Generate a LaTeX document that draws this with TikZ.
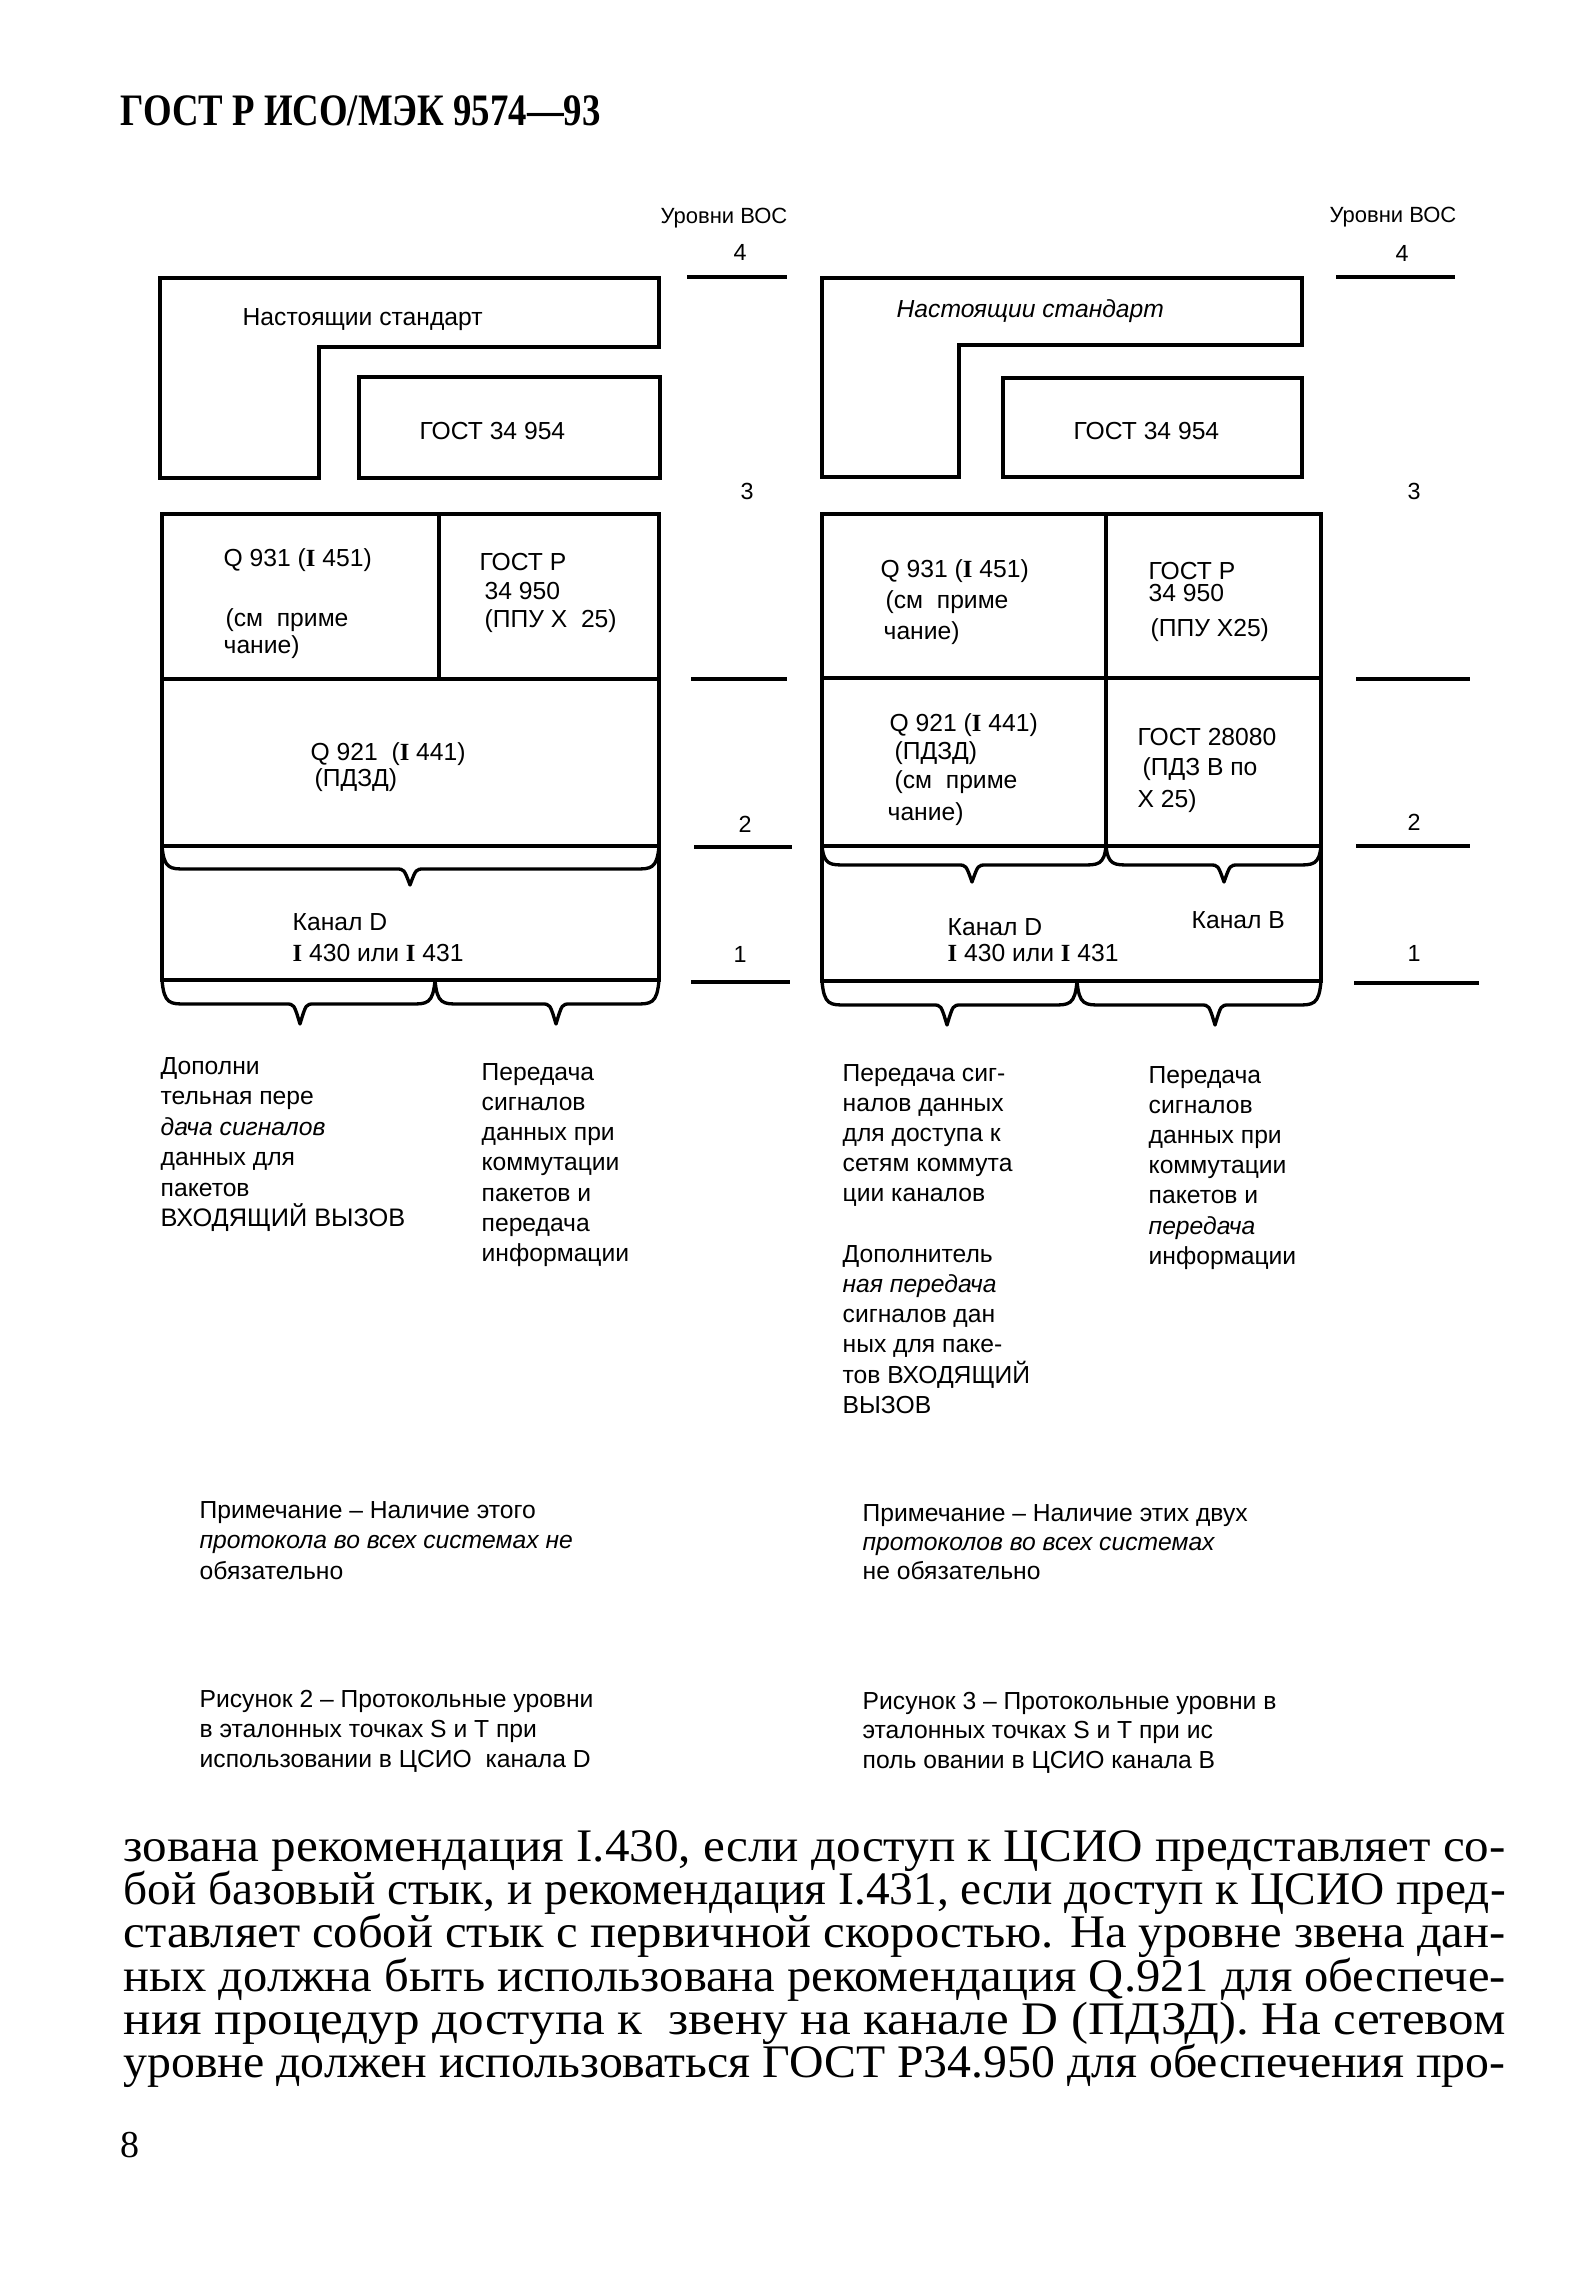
\documentclass[tikz,border=0pt]{standalone}
\usepackage{fontspec}
\setmainfont{Liberation Serif}
\setsansfont{Liberation Sans}
\usepackage{graphicx}
\newcommand\romI{{\rmfamily\bfseries I}}
\newcommand\mybrace[6]{%
  \draw[bracel] (#1,#3) .. controls ({#1+2},#4) and ({#1+8},#4) .. ({#1+24},#4)
    -- ({#5-14},#4) .. controls ({#5-6},#4) .. (#5,#6)
    .. controls ({#5+6},#4) .. ({#5+14},#4)
    -- ({#2-24},#4) .. controls ({#2-8},#4) and ({#2-2},#4) .. (#2,#3);}
\tikzset{
  frame/.style={line width=1pt, line join=miter},
  bracel/.style={line width=1pt, line join=round},
  lvlline/.style={line width=1pt},
  lbl/.style={font=\sffamily\fontsize{7.4}{9}\selectfont, inner sep=0pt, anchor=base west},
  lvlnum/.style={font=\sffamily\fontsize{7}{8}\selectfont, inner sep=0pt, anchor=base},
  lvlhead/.style={font=\sffamily\fontsize{6.6}{8}\selectfont, inner sep=0pt, anchor=base},
  body/.style={font=\rmfamily\fontsize{14}{14}\selectfont, inner sep=0pt, anchor=base west},
}
\begin{document}
\begin{tikzpicture}[x=0.3pt,y=-0.3pt]
\path[fill=white,use as bounding box] (0,0) rectangle (1579,2270);

% header
\node[inner sep=0pt, anchor=base west, font=\rmfamily\bfseries\fontsize{13.5}{13.5}\selectfont] (hdr) at (120,126)
  {\resizebox{144pt}{\height}{ГОСТ Р ИСО/МЭК 9574—93}};

% ---------- left figure ----------
\draw[frame] (160,278) -- (659,278) -- (659,347) -- (319,347) -- (319,478) -- (160,478) -- cycle;
\draw[frame] (359,377) rectangle (660,478);
\node[lbl] (Lstd) at (242,326) {Настоящии стандарт};
\node[lbl] (Lg954) at (419,440) {ГОСТ 34 954};

\draw[frame] (162,514) rectangle (659,980);
\draw[frame] (162,679) -- (659,679);
\draw[frame] (162,846) -- (659,846);
\draw[frame] (439,514) -- (439,679);
\mybrace{162}{659}{846}{869}{410}{885}
\mybrace{162}{435}{980}{1004}{300}{1024}
\mybrace{435}{659}{980}{1004}{556}{1024}

\node[lbl] (Lq931) at (223,567) {Q 931 (\romI\ 451)};
\node[lbl] (Lsm1) at (225,626) {(см\ \ приме};
\node[lbl] (Lch1) at (223,654) {чание)};
\node[lbl] (Lgr1) at (479,571) {ГОСТ Р};
\node[lbl] (Lgr2) at (484,599) {34 950};
\node[lbl] (Lgr3) at (484,628) {(ППУ Х\ \ 25)};
\node[lbl] (Lq921) at (310,760) {Q 921\ \ (\romI\ 441)};
\node[lbl] (Lpdzd) at (314,786) {(ПДЗД)};
\node[lbl] (LkD) at (292,930) {Канал D};
\node[lbl] (Li430) at (292,961) {\romI\ 430 или \romI\ 431};

% levels left
\node[lvlhead] (Lhead) at (724,224) {Уровни ВОС};
\node[lvlnum] (L4) at (740,261) {4};
\node[lvlnum] (L3) at (747,500) {3};
\node[lvlnum] (L2) at (745,832) {2};
\node[lvlnum] (L1) at (740,962) {1};
\draw[lvlline] (687,277) -- (787,277);
\draw[lvlline] (691,679) -- (787,679);
\draw[lvlline] (694,847) -- (792,847);
\draw[lvlline] (691,982) -- (790,982);

% ---------- right figure ----------
\draw[frame] (822,278) -- (1302,278) -- (1302,345) -- (959,345) -- (959,477) -- (822,477) -- cycle;
\draw[frame] (1003,378) rectangle (1302,477);
\node[lbl] (Rstd) at (896,318) {\itshape Настоящии стандарт};
\node[lbl] (Rg954) at (1073,440) {ГОСТ 34 954};

\draw[frame] (822,514) rectangle (1321,981);
\draw[frame] (822,678) -- (1321,678);
\draw[frame] (822,846) -- (1321,846);
\draw[frame] (1106,514) -- (1106,846);
\mybrace{822}{1106}{846}{865}{972}{882}
\mybrace{1106}{1321}{846}{865}{1224}{882}
\mybrace{822}{1077}{981}{1005}{947}{1025}
\mybrace{1077}{1321}{981}{1005}{1215}{1025}

\node[lbl] (Rq931) at (880,578) {Q 931 (\romI\ 451)};
\node[lbl] (Rsm1) at (885,608) {(см\ \ приме};
\node[lbl] (Rch1) at (883,639) {чание)};
\node[lbl] (Rgr1) at (1148,580) {ГОСТ Р};
\node[lbl] (Rgr2) at (1148,602) {34 950};
\node[lbl] (Rgr3) at (1150,637) {(ППУ Х25)};
\node[lbl] (Rq921) at (889,731) {Q 921 (\romI\ 441)};
\node[lbl] (Rpdzd) at (894,759) {(ПДЗД)};
\node[lbl] (Rsm2) at (894,788) {(см\ \ приме};
\node[lbl] (Rch2) at (887,820) {чание)};
\node[lbl] (R28080) at (1137,745) {ГОСТ 28080};
\node[lbl] (Rpdzb) at (1142,775) {(ПДЗ В по};
\node[lbl] (Rx25) at (1137,807) {Х 25)};
\node[lbl] (RkD) at (947,935) {Канал D};
\node[lbl] (RkB) at (1191,928) {Канал В};
\node[lbl] (Ri430) at (947,961) {\romI\ 430 или \romI\ 431};

% levels right
\node[lvlhead] (Rhead) at (1393,223) {Уровни ВОС};
\node[lvlnum] (R4) at (1402,262) {4};
\node[lvlnum] (R3) at (1414,500) {3};
\node[lvlnum] (R2) at (1414,830) {2};
\node[lvlnum] (R1) at (1414,961) {1};
\draw[lvlline] (1336,277) -- (1455,277);
\draw[lvlline] (1356,679) -- (1470,679);
\draw[lvlline] (1356,846) -- (1470,846);
\draw[lvlline] (1354,983) -- (1479,983);

% ---------- description columns ----------
\foreach \t [count=\i from 0] in {Дополни, тельная пере, {\itshape дача сигналов}, данных для, пакетов, {\fontsize{7.6}{9}\selectfont ВХОДЯЩИЙ ВЫЗОВ}}
  {\node[lbl] (cA\i) at (160,{1074+30.5*\i}) {\t};}
\foreach \t [count=\i from 0] in {Передача, сигналов, данных при, коммутации, пакетов и, передача, информации}
  {\node[lbl] (cB\i) at (481,{1080+30.3*\i}) {\t};}
\foreach \t [count=\i from 0] in {Передача сиг-, налов данных, для доступа к, сетям коммута, ции каналов}
  {\node[lbl] (cC\i) at (842,{1081+30.2*\i}) {\t};}
\foreach \t [count=\i from 6] in {Дополнитель, {\itshape ная передача}, сигналов дан, ных для паке-, тов ВХОДЯЩИЙ, ВЫЗОВ}
  {\node[lbl] (cC\i) at (842,{1081+30.2*\i}) {\t};}
\foreach \t [count=\i from 0] in {Передача, сигналов, данных при, коммутации, пакетов и, {\itshape передача}, информации}
  {\node[lbl] (cD\i) at (1148,{1083+30.2*\i}) {\t};}

% ---------- notes and captions ----------
\foreach \t [count=\i from 0] in {Примечание – Наличие этого, {\itshape протокола во всех системах не}, обязательно}
  {\node[lbl] (nL\i) at (199,{1518+30.5*\i}) {\t};}
\foreach \t [count=\i from 0] in {Примечание – Наличие этих двух, {\itshape протоколов во всех системах}, не обязательно}
  {\node[lbl] (nR\i) at (862,{1521+29*\i}) {\t};}
\foreach \t [count=\i from 0] in {Рисунок 2 – Протокольные уровни, в эталонных точках S и T при, использовании в ЦСИО\ \ канала D}
  {\node[lbl] (fL\i) at (199,{1707+30*\i}) {\t};}
\foreach \t [count=\i from 0] in {Рисунок 3 – Протокольные уровни в, эталонных точках S и T при ис, поль овании в ЦСИО канала В}
  {\node[lbl] (fR\i) at (862,{1709+29.5*\i}) {\t};}

% ---------- body text ----------
\node[body] (b1) at (123,1861) {\resizebox{414.6pt}{\height}{зована рекомендация I.430, если доступ к ЦСИО представляет со-}};
\node[body] (b2) at (123,1904) {\resizebox{414.6pt}{\height}{бой базовый стык, и рекомендация I.431, если доступ к ЦСИО пред-}};
\node[body] (b3) at (123,1947) {\resizebox{414.6pt}{\height}{ставляет собой стык с первичной скоростью. На уровне звена дан-}};
\node[body] (b4) at (123,1991) {\resizebox{414.6pt}{\height}{ных должна быть использована рекомендация Q.921 для обеспече-}};
\node[body] (b5) at (123,2034) {\resizebox{414.6pt}{\height}{ния процедур доступа к\ \ звену на канале D (ПДЗД). На сетевом}};
\node[body] (b6) at (123,2077) {\resizebox{414.6pt}{\height}{уровне должен использоваться ГОСТ Р34.950 для обеспечения про-}};

% page number
\node[inner sep=0pt, anchor=base west, font=\rmfamily\fontsize{11.4}{12}\selectfont] (pg) at (120,2157) {8};
\end{tikzpicture}
\end{document}
